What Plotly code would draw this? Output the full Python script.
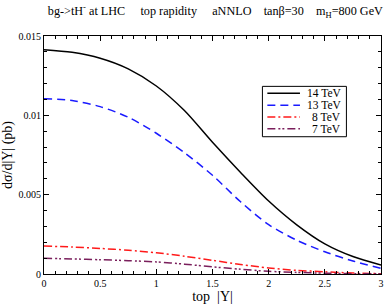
import plotly.graph_objects as go

# Data
y_grid = [0.0, 0.25, 0.5, 0.75, 1.0, 1.25, 1.5, 1.75, 2.0, 2.25, 2.5, 2.75, 3.0]
s14 = [0.01414, 0.01397, 0.01360, 0.01293, 0.01185, 0.01030, 0.00830, 0.00640, 0.00460, 0.00310, 0.00190, 0.00110, 0.00057]
s13 = [0.01105, 0.01093, 0.01055, 0.00988, 0.00887, 0.00765, 0.00622, 0.00455, 0.00311, 0.00213, 0.00140, 0.00082, 0.00036]
s8 = [0.00176, 0.00170, 0.00161, 0.00150, 0.00134, 0.00112, 0.00086, 0.00060, 0.00038, 0.00023, 0.00014, 0.00006, 0.00002]
s7 = [0.00099, 0.00095, 0.00090, 0.00084, 0.00076, 0.00062, 0.00045, 0.00030, 0.00017, 0.00010, 0.00005, 0.00002, 0.00001]

names = ["14 TeV", "13 TeV", "8 TeV", "7 TeV"]
series = [s14, s13, s8, s7]
colors = ["black", "#1a1aff", "#ff1a1a", "#7a1f5c"]
dashes = ["solid", "8px,5px", "8px,3px,2px,3px", "8px,3px,2px,2px,2px,3px"]

x_ticks = [0, 0.5, 1, 1.5, 2, 2.5, 3]
x_labels = ["0", "0.5", "1", "1.5", "2", "2.5", "3"]
y_ticks = [0, 0.005, 0.01, 0.015]
y_labels = ["0", "0.005", "0.01", "0.015"]

FONT = "Liberation Serif, Times New Roman, serif"

fig = go.Figure()
for n, s, c, d in zip(names, series, colors, dashes):
    fig.add_trace(go.Scatter(x=y_grid, y=s, mode="lines", name=n,
                             line=dict(color=c, width=1.5, dash=d, shape="spline", smoothing=0.8),
                             showlegend=False))

axis_common = dict(showline=True, linecolor="black", linewidth=1.2, mirror="ticks",
                   ticks="inside", ticklen=5, tickwidth=1, tickcolor="black",
                   showgrid=False, zeroline=False,
                   tickfont=dict(family=FONT, size=10, color="black"))

fig.update_xaxes(range=[0, 3], tickvals=x_ticks, ticktext=x_labels,
                 minor=dict(ticks="inside", ticklen=3, dtick=0.1, tickcolor="black", showgrid=False),
                 title=dict(text="top  |Y|", font=dict(family=FONT, size=14, color="black"), standoff=2),
                 **axis_common)
fig.update_yaxes(range=[0, 0.015], tickvals=y_ticks, ticktext=y_labels,
                 minor=dict(ticks="inside", ticklen=3, dtick=0.001, tickcolor="black", showgrid=False),
                 title=dict(text="dσ/d|Y| (pb)", font=dict(family=FONT, size=14, color="black"), standoff=5),
                 **axis_common)

# Manual legend (box, line samples, right-aligned labels) in paper coordinates
W, H = 388, 305
ml, mr, mt, mb = 43, 4, 36, 28
pw, ph = W - ml - mr, H - mt - mb
def px2x(px):
    return (px - ml) / pw
def py2y(py):
    return 1 - (py - mt) / ph

box = (264, 87, 349, 138)
fig.add_shape(type="rect", xref="paper", yref="paper",
              x0=px2x(box[0]), x1=px2x(box[2]), y0=py2y(box[3]), y1=py2y(box[1]),
              line=dict(color="black", width=1), fillcolor="white", layer="above")
row_y = [94, 106, 118, 130]
for n, c, d, ry in zip(names, colors, dashes, row_y):
    fig.add_shape(type="line", xref="paper", yref="paper",
                  x0=px2x(269), x1=px2x(302), y0=py2y(ry), y1=py2y(ry),
                  line=dict(color=c, width=1.5, dash=d), layer="above")
    fig.add_annotation(xref="paper", yref="paper", x=px2x(346), y=py2y(ry),
                       text=n, showarrow=False, xanchor="right", yanchor="middle",
                       font=dict(family=FONT, size=11.5, color="black"))

title_text = ("bg->tH<sup>-</sup> at LHC     top rapidity     aNNLO    tanβ=30    "
              "m<sub>H</sub>=800 GeV")
fig.update_layout(
    width=W, height=H,
    margin=dict(l=ml, r=mr, t=mt, b=mb),
    paper_bgcolor="white", plot_bgcolor="white",
    title=dict(text=title_text, x=0.555, xanchor="center", y=0.965, yanchor="middle",
               font=dict(family=FONT, size=12.2, color="black")),
    showlegend=False,
)

fig.write_html("out.html", config={"displayModeBar": False},
               post_script="document.body.style.margin='0';document.body.style.padding='0';")
